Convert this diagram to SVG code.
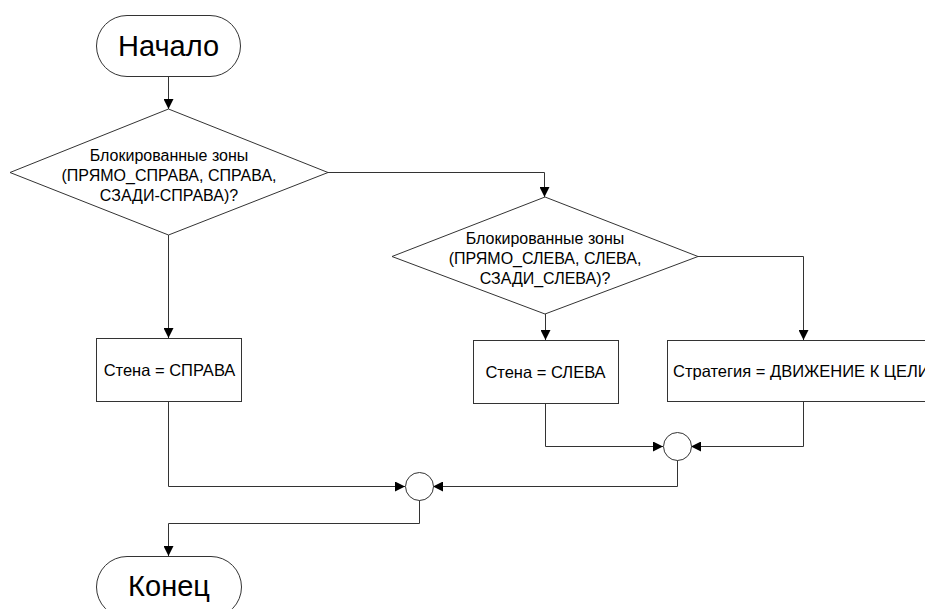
<svg xmlns="http://www.w3.org/2000/svg" width="925" height="609" viewBox="0 0 925 609">
<style>
.shape{fill:#fff;stroke:#333;stroke-width:1}
.conn{fill:none;stroke:#333;stroke-width:1}
.t{font-family:"Liberation Sans",Arial,sans-serif;fill:#000;text-anchor:middle;dominant-baseline:central}
.big{font-size:29px}
.dia{font-size:16px}
.box{font-size:16.5px}
</style>
<defs>
<marker id="arr" viewBox="0 0 10 10" refX="10" refY="5" markerWidth="10" markerHeight="10" markerUnits="userSpaceOnUse" orient="auto">
<path d="M0,0 L10,5 L0,10 z" fill="#000"/>
</marker>
</defs>
<g id="connectors">
<path class="conn" d="M168.5,76 V109" marker-end="url(#arr)"/>
<path class="conn" d="M328,172.5 H544.5 V197" marker-end="url(#arr)"/>
<path class="conn" d="M168.5,235 V338" marker-end="url(#arr)"/>
<path class="conn" d="M545.5,314 V340" marker-end="url(#arr)"/>
<path class="conn" d="M698,256.5 H803.5 V340" marker-end="url(#arr)"/>
<path class="conn" d="M803.5,401 V446.5 H691" marker-end="url(#arr)"/>
<path class="conn" d="M545.5,403 V446.5 H663" marker-end="url(#arr)"/>
<path class="conn" d="M677.5,460 V486.5 H433" marker-end="url(#arr)"/>
<path class="conn" d="M168.5,402 V486.5 H405" marker-end="url(#arr)"/>
<path class="conn" d="M419.5,500 V523.5 H168.5 V556" marker-end="url(#arr)"/>
</g>
<g id="start">
<rect class="shape" x="96.5" y="15.5" width="144" height="61" rx="30.5"/>
<text class="t big" x="168.5" y="46">Начало</text>
</g>
<g id="decision1">
<polygon class="shape" points="168.5,109 328,172.5 168.5,235 10,172.5"/>
<text class="t dia" x="169" y="155">Блокированные зоны</text>
<text class="t dia" x="169" y="175">(ПРЯМО_СПРАВА, СПРАВА,</text>
<text class="t dia" x="169" y="195">СЗАДИ-СПРАВА)?</text>
</g>
<g id="decision2">
<polygon class="shape" points="545,197 698,256.5 545,314 392,256.5"/>
<text class="t dia" x="545" y="238">Блокированные зоны</text>
<text class="t dia" x="545" y="258">(ПРЯМО_СЛЕВА, СЛЕВА,</text>
<text class="t dia" x="545" y="278">СЗАДИ_СЛЕВА)?</text>
</g>
<g id="wallRight">
<rect class="shape" x="96.5" y="338.5" width="145" height="63"/>
<text class="t box" x="169.5" y="370">Стена = СПРАВА</text>
</g>
<g id="wallLeft">
<rect class="shape" x="473.5" y="340.5" width="145" height="63"/>
<text class="t box" x="545.5" y="372">Стена = СЛЕВА</text>
</g>
<g id="strategy">
<rect class="shape" x="667.5" y="340.5" width="272" height="61"/>
<text class="t box" x="673" y="371" style="text-anchor:start">Стратегия = ДВИЖЕНИЕ К ЦЕЛИ</text>
</g>
<g id="merge1">
<circle class="shape" cx="677.5" cy="446.5" r="14"/>
</g>
<g id="merge2">
<circle class="shape" cx="419.5" cy="486.5" r="14"/>
</g>
<g id="end">
<rect class="shape" x="96.5" y="556.5" width="145" height="61" rx="30.5"/>
<text class="t big" x="169" y="586">Конец</text>
</g>
</svg>
